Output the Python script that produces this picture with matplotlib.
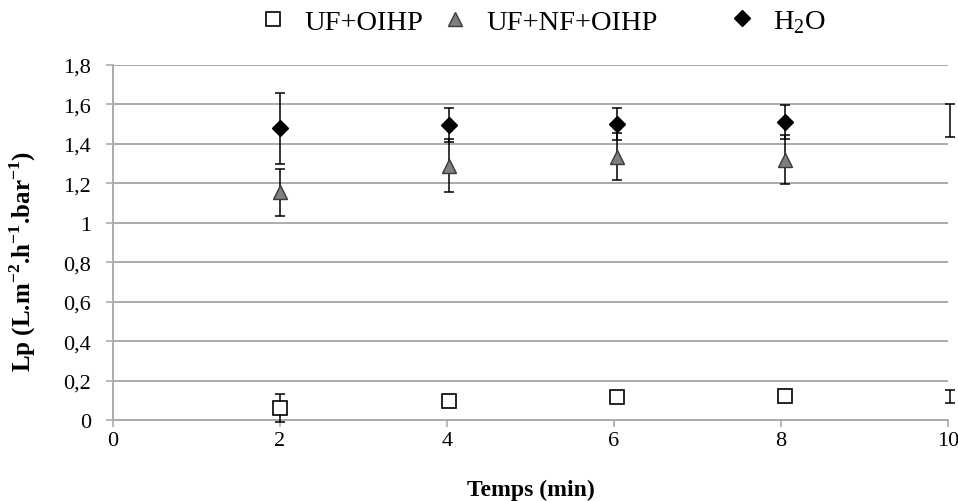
import numpy as np
import matplotlib
matplotlib.use("Agg")
import matplotlib.pyplot as plt

# Data
t_uf = [2.0, 4.02, 6.03, 8.05, 10.02]
lp_uf = [0.06, 0.095, 0.115, 0.12, 0.117]
err_uf = [0.07, 0.02, 0.015, 0.015, 0.033]

t_nf = [2.0, 4.02, 6.03, 8.05]
lp_nf = [1.155, 1.29, 1.335, 1.32]
err_nf = [0.12, 0.135, 0.12, 0.125]

t_h2o = [2.0, 4.02, 6.03, 8.05, 10.02]
lp_h2o = [1.48, 1.495, 1.50, 1.51, 1.518]
err_h2o = [0.18, 0.085, 0.08, 0.085, 0.083]

xticks = [0, 2, 4, 6, 8, 10]
yticks = [0, 0.2, 0.4, 0.6, 0.8, 1.0, 1.2, 1.4, 1.6, 1.8]
ytick_labels = ['0', '0,2', '0,4', '0,6', '0,8', '1', '1,2', '1,4', '1,6', '1,8']

plt.rcParams.update({
    'font.family': 'Liberation Serif',
    'mathtext.fontset': 'custom',
    'mathtext.rm': 'Liberation Serif',
    'mathtext.bf': 'Liberation Serif:bold',
})

fig = plt.figure(figsize=(9.58, 5.02), dpi=100)
ax = fig.add_axes([0.118, 0.1614, 0.8716, 0.7071])

grid_col = '#ababab'
err_kw = dict(fmt='none', ecolor='black', elinewidth=1.1, capsize=3.6, capthick=1.1,
              clip_on=False, zorder=3)

# error bars (the last points sit just past x=10; only their bars show)
for t, lp, e in [(t_uf, lp_uf, err_uf), (t_nf, lp_nf, err_nf), (t_h2o, lp_h2o, err_h2o)]:
    eb = ax.errorbar(t, lp, yerr=e, **err_kw)
    for part in eb.lines[1] + eb.lines[2]:
        part.set_clip_on(False)

sq, = ax.plot(t_uf[:4], lp_uf[:4], 's', ms=10, mfc='white', mec='black', mew=1.2,
              ls='none', zorder=4, label='UF+OIHP')
tri, = ax.plot(t_nf, lp_nf, '^', ms=10, mfc='#7f7f7f', mec='#3a3a3a', mew=1.0,
               ls='none', zorder=4, label='UF+NF+OIHP')
dia, = ax.plot(t_h2o[:4], lp_h2o[:4], 'D', ms=8, mfc='black', mec='black',
               ls='none', zorder=4, label='H$_2$O')

ax.set_xlim(0, 10)
ax.set_ylim(0, 1.8)
ax.set_xticks(xticks)
ax.set_xticklabels([str(v) for v in xticks])
ax.set_yticks(yticks)
ax.set_yticklabels(ytick_labels)
ax.tick_params(axis='both', labelsize=16, color=grid_col, length=5, width=1.2)
ax.tick_params(axis='x', pad=3)
ax.tick_params(axis='y', pad=11)
ax.yaxis.grid(True, color=grid_col, lw=1.4)
ax.set_axisbelow(True)
for side in ['top', 'right']:
    ax.spines[side].set_visible(False)
for side in ['left', 'bottom']:
    ax.spines[side].set_color(grid_col)
    ax.spines[side].set_linewidth(1.4)

ax.set_xlabel('Temps (min)', fontsize=17, fontweight='bold', labelpad=21)
ax.set_ylabel(r'Lp (L.m$^{\mathbf{-2}}$.h$^{\mathbf{-1}}$.bar$^{\mathbf{-1}}$)',
              fontsize=18, fontweight='bold')
ax.yaxis.set_label_coords(-0.090, 0.45)

leg_kw = dict(frameon=False, fontsize=20.5, handlelength=1.0, handletextpad=0.6,
              borderpad=0, loc='center left')
for h, xpos in [(sq, 0.2552), (tri, 0.4452), (dia, 0.7448)]:
    fig.legend(handles=[h], bbox_to_anchor=(xpos, 0.955), **leg_kw)

fig.savefig('out.png', dpi=100)
